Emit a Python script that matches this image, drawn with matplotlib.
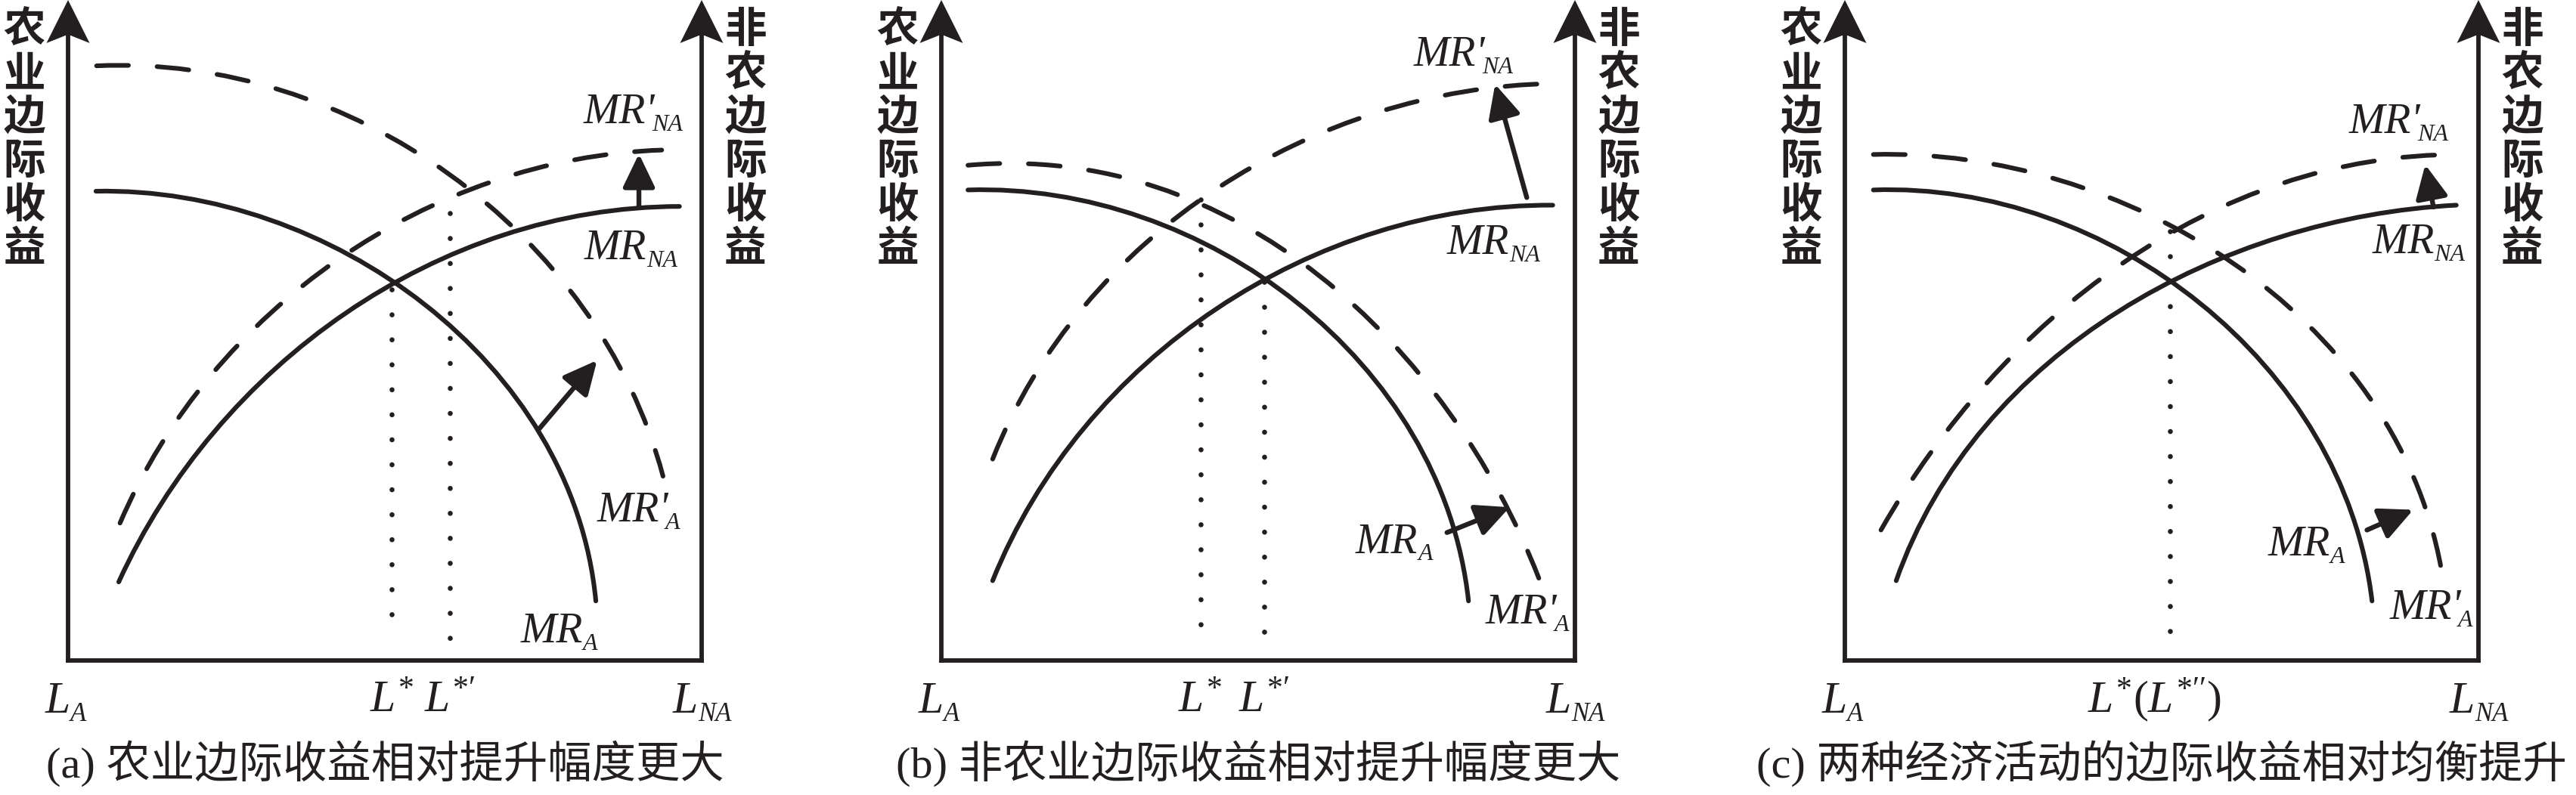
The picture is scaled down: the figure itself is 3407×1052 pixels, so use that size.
import numpy as np
import matplotlib.pyplot as plt
from matplotlib.path import Path
from matplotlib.patches import PathPatch, Polygon, FancyArrowPatch

plt.rcParams['mathtext.fontset'] = 'custom'
plt.rcParams['mathtext.it'] = 'Liberation Serif:italic'
plt.rcParams['mathtext.rm'] = 'Liberation Serif'
plt.rcParams['mathtext.default'] = 'it'

INK = '#231f20'
SERIF = 'Liberation Serif'

# ---- data (x: 0 = L_A axis, 100 = L_NA axis; y in the same units above the base line)
a_mr_a = [(4.4, 74.1), (19.9, 72.7), (31.8, 69.7), (39.8, 66.5), (47.7, 62.1),
          (51.3, 59.9), (59.7, 53.4), (62.1, 50.4), (68.4, 44.4), (74.0, 36.8),
          (78.4, 29.3), (80.8, 22.5), (82.3, 14.6), (83.3, 9.4)]
a_mr_na = [(8.0, 12.4), (11.9, 20.1), (15.9, 26.1), (19.9, 32.1), (23.9, 37.0),
           (27.8, 41.2), (32.6, 46.2), (37.8, 50.4), (43.8, 55.0), (51.5, 59.9),
           (60.5, 64.1), (72.4, 68.1), (82.3, 70.3), (96.5, 71.7)]
a_mr_a2 = [(4.5, 93.9), (13.9, 93.6), (23.7, 92.6), (32.8, 90.3), (42.2, 86.8),
           (49.7, 83.4), (57.9, 78.4), (65.4, 72.7), (72.4, 66.3), (78.6, 59.2),
           (84.3, 51.4), (88.5, 43.2), (92.3, 34.4), (93.9, 29.1)]
a_mr_na2 = [(8.2, 21.7), (15.3, 34.9), (20.7, 42.6), (26.8, 49.8), (29.4, 52.6),
            (41.0, 62.3), (48.9, 67.3), (57.3, 71.7), (66.0, 75.3), (75.2, 78.0),
            (84.3, 79.8), (93.7, 80.6)]

b_mr_a = [(4.2, 74.3), (22.9, 71.9), (41.1, 66.7), (51.7, 59.8), (64.6, 48.2),
          (72.2, 39.4), (76.8, 31.4), (80.6, 21.8), (83.2, 9.4)]
b_mr_na = [(8.1, 12.6), (19.1, 31.8), (30.5, 45.8), (41.8, 54.6), (51.7, 59.8),
           (64.6, 66.7), (79.8, 70.3), (96.5, 71.9)]
b_mr_a2 = [(4.2, 78.2), (22.9, 76.7), (41.1, 72.3), (57.0, 63.5), (72.2, 49.0),
           (82.1, 35.4), (89.7, 23.4), (94.3, 13.0)]
b_mr_na2 = [(8.1, 31.8), (19.1, 51.4), (30.5, 64.3), (41.1, 73.0), (53.2, 80.3),
            (68.4, 86.3), (83.6, 89.9), (96.5, 91.1)]

c_mr_a = [(4.5, 74.3), (21.4, 72.7), (37.4, 68.2), (51.5, 59.5), (61.5, 51.4),
          (71.2, 40.2), (77.6, 29.8), (83.2, 9.4)]
c_mr_na = [(8.1, 12.6), (21.4, 36.2), (33.4, 48.2), (51.5, 59.5), (65.6, 65.9),
           (81.6, 70.3), (96.5, 71.9)]
c_mr_a2 = [(4.5, 79.9), (21.4, 78.7), (37.4, 75.1), (51.5, 68.2), (65.6, 59.4),
           (77.6, 48.2), (85.6, 37.8), (90.4, 27.4), (94.1, 14.6)]
c_mr_na2 = [(5.7, 20.6), (17.4, 37.0), (29.4, 51.4), (41.5, 61.0), (51.5, 68.2),
            (65.6, 73.8), (81.6, 78.3), (97.3, 79.9)]

# equilibrium drop lines: (x, top)
a_eq = [(51.1, 58.6), (60.3, 70.6)]
b_eq = [(40.9, 72.8), (51.0, 59.8)]
c_eq = [(51.3, 67.8)]
eq_bottom = 3.5

a_eq_labels = [r'$L^{*}$', r'$L^{*\prime}$']
b_eq_labels = [r'$L^{*}$', r'$L^{*\prime}$']
c_eq_labels = [r'$L^{*}(L^{*\prime\prime})$']
c_eq_label_x = [48.9]

# shift arrows: (start, tip)
a_shifts = [((74.2, 36.4), (83.5, 47.4)), ((90.1, 71.7), (90.1, 80.0))]
b_shifts = [((92.4, 73.1), (87.4, 91.0)), ((79.8, 20.2), (89.7, 24.2))]
c_shifts = [((92.9, 71.6), (91.6, 78.3)), ((82.4, 20.6), (89.7, 23.8))]

# curve names: (subscript, primed)
curve_names = [('NA', True), ('NA', False), ('A', True), ('A', False)]
a_name_pos = [(81.3, 84.8), (81.5, 63.4), (83.5, 21.9), (71.4, 2.9)]
b_name_pos = [(74.5, 93.9), (79.8, 64.2), (85.9, 5.8), (65.4, 17.0)]
c_name_pos = [(79.6, 83.3), (83.2, 64.3), (86.0, 6.6), (66.8, 16.6)]

captions = ['(a) 农业边际收益相对提升幅度更大',
            '(b) 非农业边际收益相对提升幅度更大',
            '(c) 两种经济活动的边际收益相对均衡提升']
left_title = '农业边际收益'
right_title = '非农边际收益'

# ---- layout in pixels
W, H = 3407, 1052
axis_left_px = [90, 1245, 2440]
panel_w_px = 838
base_px = 874
unit = panel_w_px / 100.0
top = base_px / unit

panels = [
    dict(curves=(a_mr_a, a_mr_na, a_mr_a2, a_mr_na2), eq=a_eq, eq_labels=a_eq_labels,
         eq_label_x=[e[0] for e in a_eq], shifts=a_shifts, names=a_name_pos),
    dict(curves=(b_mr_a, b_mr_na, b_mr_a2, b_mr_na2), eq=b_eq, eq_labels=b_eq_labels,
         eq_label_x=[e[0] for e in b_eq], shifts=b_shifts, names=b_name_pos),
    dict(curves=(c_mr_a, c_mr_na, c_mr_a2, c_mr_na2), eq=c_eq, eq_labels=c_eq_labels,
         eq_label_x=c_eq_label_x, shifts=c_shifts, names=c_name_pos),
]


def bezier_path(pts):
    # one cubic bezier fitted (least squares) to the points
    P = np.asarray(pts, dtype=float)
    d = np.r_[0, np.cumsum(np.hypot(*np.diff(P, axis=0).T))]
    t = d / d[-1]
    p0, p3 = P[0], P[-1]
    A = np.c_[3 * (1 - t) ** 2 * t, 3 * (1 - t) * t ** 2]
    rhs = P - np.outer((1 - t) ** 3, p0) - np.outer(t ** 3, p3)
    ctrl, *_ = np.linalg.lstsq(A, rhs, rcond=None)
    return Path([p0, ctrl[0], ctrl[1], p3],
                [Path.MOVETO, Path.CURVE4, Path.CURVE4, Path.CURVE4])


def axis_arrow(ax, x):
    hw, hl = 3.4, 6.8
    ax.plot([x, x], [0, top - hl * 0.8], color=INK, lw=4.2, solid_capstyle='projecting',
            clip_on=False)
    ax.add_patch(Polygon([(x, top), (x + hw, top - hl), (x, top - hl * 0.8),
                          (x - hw, top - hl)], closed=True, color=INK, lw=0, clip_on=False))


def sub_label(ax, x, y, main, sub, size, sub_size, ha='left', dx=0.0):
    t = ax.text(x, y, main, fontsize=size, family=SERIF, style='italic', color=INK,
                ha=ha, va='baseline', clip_on=False)
    ax.annotate(sub, xy=(1, 0), xycoords=t, xytext=(dx, 1.5), textcoords='offset points',
                fontsize=sub_size, family=SERIF, style='italic', color=INK,
                ha='left', va='baseline', annotation_clip=False)


fig = plt.figure(figsize=(W / 100, H / 100), dpi=100)

for k, p in enumerate(panels):
    ax = fig.add_axes([axis_left_px[k] / W, (H - base_px) / H,
                       panel_w_px / W, base_px / H])
    ax.set_xlim(0, 100)
    ax.set_ylim(0, top)
    ax.axis('off')

    # U-shaped frame with arrows
    ax.plot([0, 100], [0, 0], color=INK, lw=4.2, solid_capstyle='projecting', clip_on=False)
    axis_arrow(ax, 0)
    axis_arrow(ax, 100)

    mr_a, mr_na, mr_a2, mr_na2 = p['curves']
    for pts in (mr_a, mr_na):
        ax.add_patch(PathPatch(bezier_path(pts), fill=False, color=INK, lw=4.4,
                               capstyle='round', clip_on=False))
    for pts in (mr_a2, mr_na2):
        ax.add_patch(PathPatch(bezier_path(pts), fill=False, color=INK, lw=4.4,
                               ls=(0, (6.9, 6.2)), capstyle='round', clip_on=False))

    for x, ytop in p['eq']:
        ax.plot([x, x], [ytop, eq_bottom], color=INK, lw=4.8,
                ls=(0, (0.01, 4.95)), dash_capstyle='round', clip_on=False)

    for start, tip in p['shifts']:
        ax.add_patch(FancyArrowPatch(start, tip,
                                     arrowstyle='-|>,head_length=0.27,head_width=0.13',
                                     mutation_scale=100, color=INK, lw=4.6,
                                     shrinkA=0, shrinkB=0, clip_on=False))

    for (sub, primed), (x, y) in zip(curve_names, p['names']):
        sub_label(ax, x, y, "MR'" if primed else 'MR', sub, 41, 23,
                  dx=-3 if primed else 0)

    sub_label(ax, 0.3, -8.2, 'L', 'A', 43, 25, ha='right')
    sub_label(ax, 99.4, -8.2, 'L', 'NA', 43, 25, ha='right')
    for lab, x in zip(p['eq_labels'], p['eq_label_x']):
        ax.text(x, -8.2, lab, fontsize=43, color=INK, ha='center', va='baseline',
                clip_on=False)

    step = 58 / unit
    for i, ch in enumerate(left_title):
        ax.text(-6.9, 99.5 - i * step, ch, fontsize=40, color=INK, ha='center', va='center',
                family=['Noto Sans CJK SC'], fontweight='bold', clip_on=False)
    for i, ch in enumerate(right_title):
        ax.text(106.9, 99.5 - i * step, ch, fontsize=40, color=INK, ha='center', va='center',
                family=['Noto Sans CJK SC'], fontweight='bold', clip_on=False)

    ax.text(50, -16.3, captions[k], fontsize=42, color=INK, ha='center', va='center',
            family=[SERIF, 'Noto Sans CJK SC'], clip_on=False)

fig.savefig('out.png', dpi=100, facecolor='white')
